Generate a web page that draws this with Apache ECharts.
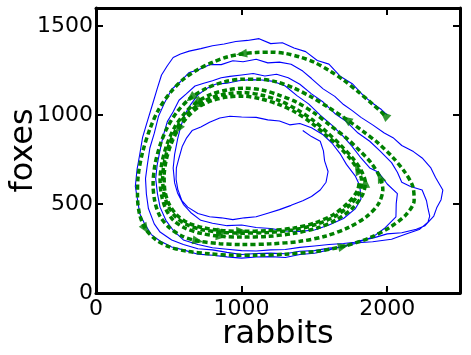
<!DOCTYPE html>
<html>
<head>
<meta charset="utf-8">
<script src="https://cdn.jsdelivr.net/npm/echarts@6/dist/echarts.min.js"></script>
<style>
  html, body { margin: 0; padding: 0; background: #fff; }
  #chart { width: 471px; height: 355px; }
</style>
</head>
<body>
<div id="chart"></div>
<script>
// stochastic run (rabbits, foxes), starts at (2000, 1000) and spirals inward
const stochasticRun = [
  [2000,1000],[1960,1030],[1900,1065],[1840,1105],[1760,1175],[1680,1215],[1600,1285],[1520,1305],[1440,1355],[1360,1375],
  [1280,1405],[1200,1400],[1120,1428],[1040,1418],[960,1412],[880,1398],[800,1388],[720,1372],[640,1358],[580,1342],
  [530,1322],[490,1276],[450,1224],[420,1146],[390,1064],[350,956],[320,874],[300,776],[282,694],[270,598],
  [288,512],[300,446],[332,392],[380,328],[440,292],[520,258],[600,242],[700,218],[800,212],[900,203],
  [1000,196],[1100,202],[1200,204],[1300,199],[1400,216],[1500,223],[1600,242],[1700,262],[1800,292],[1900,308],
  [2000,332],[2100,338],[2200,358],[2260,378],[2320,432],[2340,478],[2370,524],[2382,578],[2358,612],[2332,648],
  [2300,702],[2240,758],[2180,794],[2100,828],[2040,872],[1980,898],[1900,944],[1820,986],[1760,1024],[1700,1058],
  [1640,1104],[1560,1146],[1480,1204],[1420,1246],
  [1340,1284],[1260,1296],[1180,1292],[1100,1312],[1010,1298],[940,1304],[860,1282],[780,1282],[700,1252],[640,1238],
  [580,1186],[520,1144],[470,1066],[430,994],[400,896],[370,814],[352,716],[340,642],[346,556],[360,474],
  [400,388],[440,342],[520,298],[600,272],[700,248],[800,242],[900,228],[1000,216],[1100,222],[1200,224],
  [1300,220],[1400,234],[1500,238],[1600,252],[1700,260],[1800,282],[1900,288],[2030,302],[2120,328],[2220,356],
  [2280,398],[2292,432],[2278,482],[2270,518],[2240,578],[2160,598],[2100,622],[2070,678],[2030,732],[1950,798],
  [1880,852],[1800,898],[1720,962],[1640,1008],[1560,1072],[1480,1118],[1400,1172],
  [1320,1208],[1240,1228],[1160,1218],[1080,1232],[1000,1224],[920,1216],[860,1208],[800,1192],[740,1178],[680,1162],
  [620,1118],[570,1082],[530,1018],[490,962],[460,878],[440,802],[420,718],[410,642],[422,558],[440,482],
  [480,408],[530,352],[600,298],[700,272],[800,254],[900,246],[1000,238],[1100,236],[1200,242],[1300,244],
  [1400,256],[1500,264],[1600,272],[1700,278],[1810,288],[1900,314],[1980,362],[2060,428],[2062,502],[2070,558],
  [2000,612],[1940,678],[1880,702],[1820,758],[1760,822],[1700,878],[1620,942],[1540,998],[1460,1062],[1380,1108],
  [1300,1162],[1220,1188],[1140,1196],[1060,1198],[980,1192],[900,1178],[820,1172],[760,1148],[700,1112],[650,1058],
  [610,1002],[580,928],[560,862],[540,778],[530,702],[540,618],[560,562],[600,498],[650,452],[720,408],
  [800,392],[900,378],[1000,382],[1100,368],[1200,362],[1300,348],[1400,346],[1500,354],[1600,382],[1700,418],
  [1780,472],[1820,528],[1812,602],[1780,658],[1720,722],[1680,778],[1620,842],[1560,888],[1480,928],[1400,952],
  [1330,944],[1260,966],[1180,972],[1100,986],[1000,988],[920,992],[850,982],[780,958],[720,932],[660,912],
  [620,868],[592,822],[570,758],[552,702],[550,638],[562,582],[590,518],[630,482],[700,446],[780,428],
  [860,422],[940,412],[1020,422],[1100,428],[1180,448],[1260,468],[1340,492],[1420,518],[1480,542],[1540,578],
  [1580,622],[1594,682],[1570,742],[1562,798],[1540,852],[1480,878],[1420,912]
];

// deterministic solution (rabbits, foxes)
const deterministicRun = [
  [1980,1000],[1900,1060],[1800,1130],[1700,1195],[1600,1250],[1500,1295],[1400,1325],[1300,1345],[1200,1352],[1100,1350],
  [1000,1342],[900,1325],[800,1295],[700,1255],[600,1200],[510,1125],[430,1030],[370,920],[320,790],[290,660],
  [285,540],[300,440],[340,360],[410,300],[500,260],[620,235],[780,220],[950,212],[1100,212],[1300,218],
  [1500,232],[1700,262],[1880,310],[2020,370],[2130,440],[2185,520],[2175,600],[2120,680],[2040,760],[1940,840],
  [1830,910],[1720,975],[1600,1040],[1480,1100],[1360,1150],[1240,1185],
  [1120,1200],[1000,1200],[880,1185],[760,1150],[650,1095],[560,1020],[490,930],[440,830],[405,720],[392,610],
  [405,510],[440,430],[500,370],[590,320],[700,292],[850,277],[1000,272],[1200,276],[1400,290],[1580,320],
  [1740,370],[1860,430],[1940,500],[1970,580],[1950,650],[1890,730],[1810,800],[1720,870],[1610,940],[1500,1010],
  [1380,1070],[1260,1110],
  [1140,1140],[1020,1150],[900,1140],[790,1115],[690,1070],[610,1010],[540,930],[490,840],[455,740],[440,640],
  [450,550],[480,470],[530,410],[610,365],[720,335],[860,318],[1000,314],[1180,318],[1360,335],[1520,365],
  [1650,410],[1760,475],[1830,550],[1850,620],[1820,690],[1760,760],[1680,830],[1590,900],[1490,970],[1380,1030],
  [1260,1080],
  [1140,1110],[1020,1125],[900,1118],[790,1095],[700,1055],[620,1000],[555,925],[505,840],[472,745],[458,650],
  [465,565],[495,490],[545,430],[620,385],[730,355],[870,340],[1000,336],[1180,340],[1360,355],[1510,385],
  [1640,430],[1745,495],[1810,565],[1825,630],[1795,695],[1740,760],[1665,825],[1575,890],[1480,955],[1370,1015],
  [1250,1060],
  [1130,1090],[1010,1105],[900,1100],[795,1080],[705,1045],[630,990],[565,920],[515,835],[482,745],[468,655],
  [474,570],[503,498],[553,440],[628,395],[738,366],[875,350],[1000,346],[1180,350],[1360,365],[1505,394],
  [1630,440],[1730,505],[1795,575],[1810,635]
];

// points on the deterministic run that carry an arrow head
const arrowAt = [0, 10, 22, 31, 41, 50, 60, 70, 82, 93, 101, 113, 124, 133, 146, 156];

const xTicks = { min: 0, max: 2500, step: 1000 };
const yTicks = { min: 0, max: 1600, step: 500 };

const chart = echarts.init(document.getElementById('chart'), null, { renderer: 'canvas' });

const grid = { left: 96, right: 11, top: 8, bottom: 62, containLabel: false, outerBoundsMode: 'none' };
const plotW = 471 - grid.left - grid.right;
const plotH = 355 - grid.top - grid.bottom;

function arrowAngle(i) {
  const a = deterministicRun[Math.max(i - 1, 0)];
  const b = deterministicRun[Math.min(i + 1, deterministicRun.length - 1)];
  const dx = (b[0] - a[0]) * plotW / (xTicks.max - xTicks.min);
  const dy = (b[1] - a[1]) * plotH / (yTicks.max - yTicks.min);
  return Math.atan2(dy, dx) * 180 / Math.PI - 90;
}

const arrows = arrowAt.map(i => ({
  value: deterministicRun[i],
  symbolRotate: arrowAngle(i)
}));

const font = 'DejaVu Sans';
const frameLine = { show: true, onZero: false, lineStyle: { color: '#000', width: 3 } };
const tick = { show: true, inside: true, length: 7, lineStyle: { color: '#000', width: 2 } };
const plain = v => String(v);

const option = {
  animation: false,
  backgroundColor: '#fff',
  grid: grid,
  xAxis: [
    {
      type: 'value', position: 'bottom',
      min: xTicks.min, max: xTicks.max, interval: xTicks.step,
      name: 'rabbits', nameLocation: 'middle', nameGap: 26, nameMoveOverlap: false,
      nameTextStyle: { fontFamily: font, fontSize: 32, color: '#000', verticalAlign: 'top', lineHeight: 32 },
      axisLine: frameLine, axisTick: tick,
      axisLabel: { fontFamily: font, fontSize: 22, color: '#000', margin: 5, showMaxLabel: false, formatter: plain },
      splitLine: { show: false }
    },
    {
      type: 'value', position: 'top',
      min: xTicks.min, max: xTicks.max, interval: xTicks.step,
      axisLine: frameLine, axisTick: tick,
      axisLabel: { show: false }, splitLine: { show: false }
    }
  ],
  yAxis: [
    {
      type: 'value', position: 'left',
      min: yTicks.min, max: yTicks.max, interval: yTicks.step,
      name: 'foxes', nameLocation: 'middle', nameGap: 56, nameMoveOverlap: false,
      nameTextStyle: { fontFamily: font, fontSize: 32, color: '#000', lineHeight: 32 },
      axisLine: frameLine, axisTick: tick,
      axisLabel: { fontFamily: font, fontSize: 22, color: '#000', margin: 3, showMaxLabel: false, formatter: plain },
      splitLine: { show: false }
    },
    {
      type: 'value', position: 'right',
      min: yTicks.min, max: yTicks.max, interval: yTicks.step,
      axisLine: frameLine, axisTick: tick,
      axisLabel: { show: false }, splitLine: { show: false }
    }
  ],
  series: [
    {
      name: 'stochastic',
      type: 'line',
      data: stochasticRun,
      showSymbol: false,
      lineStyle: { color: '#0000ff', width: 1.1 },
      z: 2
    },
    {
      name: 'deterministic',
      type: 'line',
      data: deterministicRun,
      showSymbol: false,
      smooth: 0.3,
      lineStyle: { color: '#008000', width: 3.5, type: [5, 3] },
      z: 3
    },
    {
      name: 'arrows',
      type: 'scatter',
      data: arrows,
      symbol: 'triangle',
      symbolSize: [9, 11],
      itemStyle: { color: '#008000' },
      z: 4
    }
  ]
};

chart.setOption(option);
</script>
</body>
</html>
